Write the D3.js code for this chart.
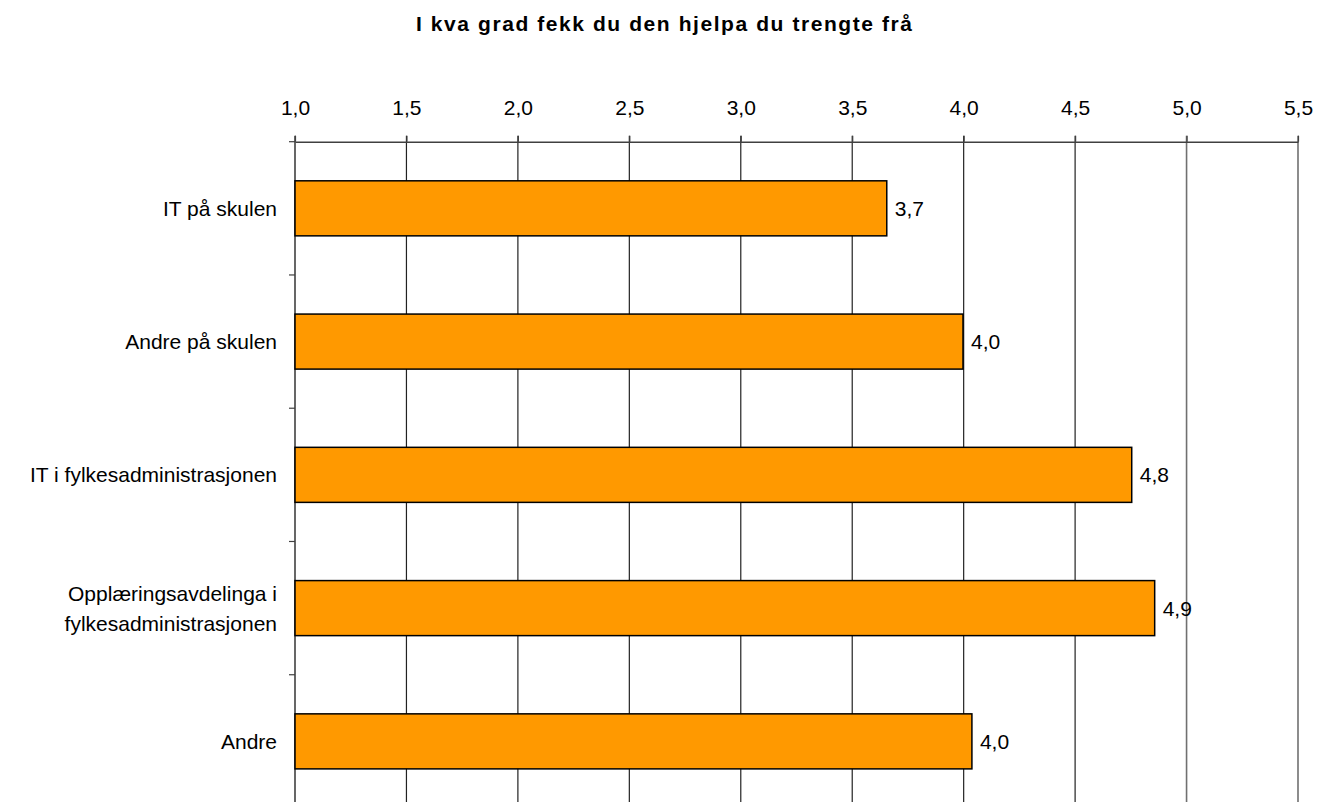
<!DOCTYPE html>
<html><head><meta charset="utf-8">
<script src="https://cdn.jsdelivr.net/npm/d3@7"></script>
<style>body{margin:0;background:#fff}svg{display:block}text{font-family:Arial,"Liberation Sans",sans-serif;fill:#000}</style>
</head><body><svg id="c" width="1318" height="802"></svg>
<script>
const title = "I kva grad fekk du den hjelpa du trengte frå";
const categories = [["IT på skulen"],["Andre på skulen"],["IT i fylkesadministrasjonen"],["Opplæringsavdelinga i","fylkesadministrasjonen"],["Andre"]];
const values = [3.655, 3.997, 4.754, 4.857, 4.037];
const valueLabels = ["3,7","4,0","4,8","4,9","4,0"];
const ticks = [1.0,1.5,2.0,2.5,3.0,3.5,4.0,4.5,5.0,5.5];

const svg = d3.select("#c");
const L=295, R=1298, T=141.7, B=808;
const x = d3.scaleLinear().domain([1,5.5]).range([L,R]);
const y = d3.scaleBand().domain(d3.range(categories.length)).range([T,B]).paddingInner(0.587).paddingOuter(0.2935);
const fmt = d => d3.format(".1f")(d).replace(".",",");

svg.append("text").attr("x",664).attr("y",31).attr("text-anchor","middle")
  .attr("font-size",21).attr("font-weight","bold").attr("textLength",496).attr("lengthAdjust","spacing").text(title);

// gridlines
svg.append("g").selectAll("line").data(ticks.slice(1)).join("line")
  .attr("x1",d=>x(d)).attr("x2",d=>x(d)).attr("y1",T-6).attr("y2",B)
  .attr("stroke",(d)=>d>=5?"#707070":"#222").attr("stroke-width",(d)=>d>=5?1.6:1.2);

// top axis
const xa = svg.append("g").attr("transform",`translate(0,${T})`)
  .call(d3.axisTop(x).tickValues(ticks).tickFormat(fmt).tickSize(6).tickSizeOuter(0));
xa.select(".domain").attr("stroke","#404040").attr("stroke-width",1.6);
xa.selectAll(".tick line").attr("stroke","#404040").attr("stroke-width",1.2);
xa.selectAll(".tick text").attr("font-size",21).attr("font-family","Arial, 'Liberation Sans', sans-serif").attr("y",-27).attr("dy",0);

// left axis
svg.append("line").attr("x1",L).attr("x2",L).attr("y1",T-6).attr("y2",B).attr("stroke","#404040").attr("stroke-width",1.6);
const step = y.step();
svg.append("g").selectAll("line").data(d3.range(categories.length+1)).join("line")
  .attr("x1",L-6).attr("x2",L).attr("y1",d=>T+d*step).attr("y2",d=>T+d*step)
  .attr("stroke","#404040").attr("stroke-width",1.2);

// bars
svg.append("g").selectAll("rect").data(values).join("rect")
  .attr("x",x(1)).attr("y",(d,i)=>y(i)).attr("width",d=>x(d)-x(1)).attr("height",y.bandwidth())
  .attr("fill","#FF9900").attr("stroke","#000").attr("stroke-width",1.5);

// value labels
svg.append("g").selectAll("text").data(values).join("text")
  .attr("x",d=>x(d)+8).attr("y",(d,i)=>y(i)+y.bandwidth()/2+7.5)
  .attr("font-size",21).text((d,i)=>valueLabels[i]);

// category labels
const cl = svg.append("g").selectAll("text").data(categories).join("text")
  .attr("text-anchor","end").attr("font-size",21)
  .attr("y",(d,i)=>y(i)+y.bandwidth()/2+7.5-(d.length-1)*15);
cl.each(function(d){
  const t=d3.select(this);
  d.forEach((s,k)=>t.append("tspan").attr("x",277).attr("dy",k?30:0).text(s));
});
</script></body></html>
